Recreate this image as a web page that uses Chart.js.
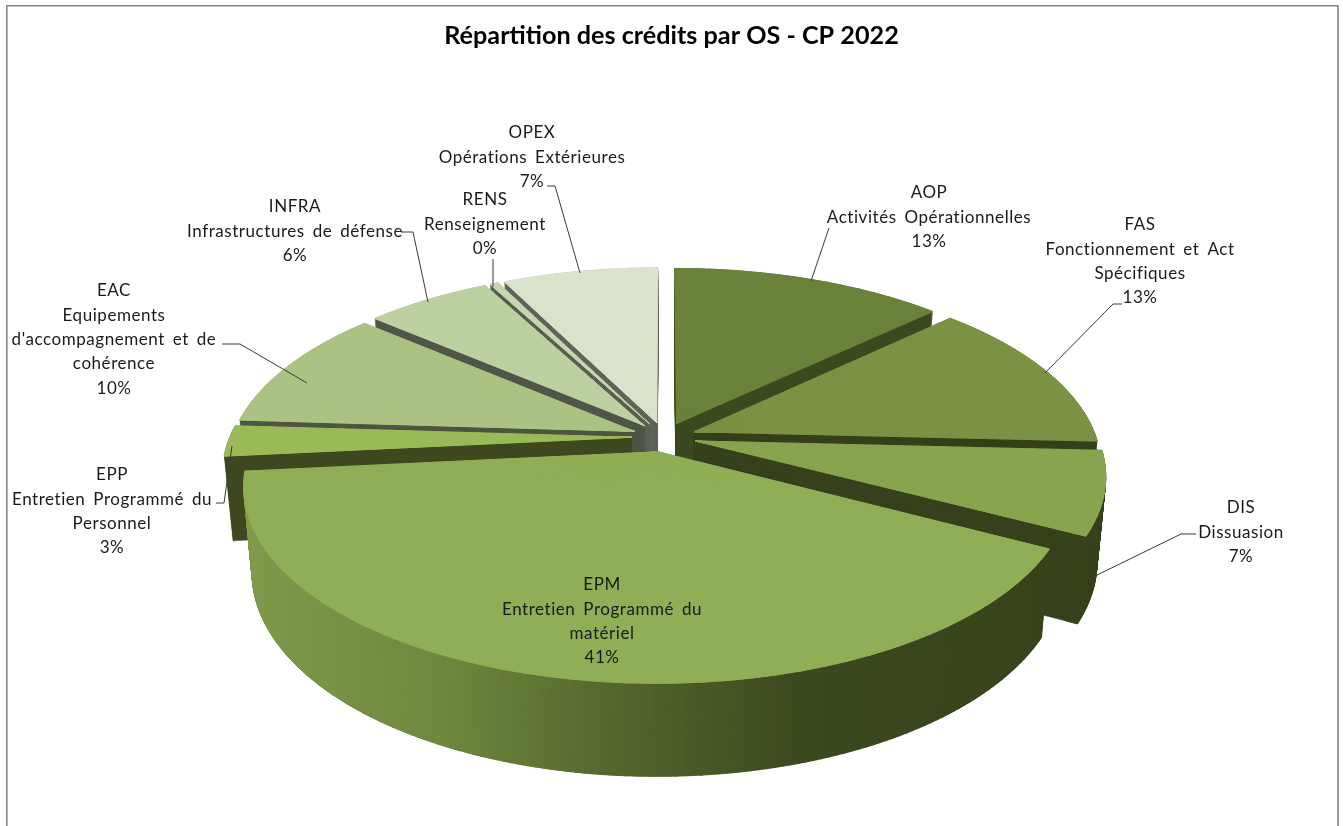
<!DOCTYPE html>
<html lang="fr">
<head>
<meta charset="utf-8">
<title>Répartition des crédits par OS - CP 2022</title>
<style>html,body{margin:0;padding:0;background:#fff;overflow:hidden}canvas{display:block}</style>
<script src="https://cdn.jsdelivr.net/npm/chart.js@4/dist/chart.umd.min.js"></script>
</head>
<body>
<canvas id="c" width="1343" height="826"></canvas>
<script>
const categories = ['AOP','FAS','DIS','EPM','EPP','EAC','INFRA','RENS','OPEX'];
const descriptions = [
  ['Activités Opérationnelles'],
  ['Fonctionnement et Act','Spécifiques'],
  ['Dissuasion'],
  ['Entretien Programmé du','matériel'],
  ['Entretien Programmé du','Personnel'],
  ['Equipements',"d'accompagnement et de",'cohérence'],
  ['Infrastructures de défense'],
  ['Renseignement'],
  ['Opérations Extérieures']
];
const creditsCP2022 = [13, 13, 7, 41, 2.6, 10.4, 6, 0.4, 7.4];
const topColors  = ['#6a8239','#7b9143','#88a44e','#8fae55','#9aba58','#abc282','#bdd0a0','#c6d6ae','#d9e3cb'];
const wallColors = ['#3d4a20','#35401b','#36421d','#3a4720','#3f4920','#4d5640','#50574a','#595f4f','#5f6459'];

// Layout of the 3D view (not data)
const VIEW = {cx:664, cy:437, rx:402, ry:186, persp:0.172, depth:84, narrow:0.02, explode:0.08};
const LABEL_POS = [[929,193],[1140,225],[1241,508],[602,585],[112,475],[114,291],[295,207],[485,200],[532,133]];
const LEADERS = [
  [[811,281],[829,228]],
  [[1045,373],[1113,304],[1122,304]],
  [[1091,578],[1181,534],[1196,534]],
  null,
  [[232,446],[224,503],[216,503]],
  [[222,344],[240,344],[307,383]],
  [[401,232],[413,232],[428,302]],
  [[493,259],[493,287]],
  [[547,186],[555,186],[580,273]]
];
const RIM_STOPS = [[250,[128,155,76]],[450,[110,135,63]],[620,[84,102,44]],[800,[60,74,32]],[1100,[56,67,29]]];

function project(u, v, t) {
  const w = 1 + VIEW.persp * v;
  const x = VIEW.rx * u / w * (1 - VIEW.narrow * t);
  const y = -VIEW.ry * v / w + VIEW.depth * t / Math.sqrt(w);
  return [VIEW.cx + x, VIEW.cy + y];
}
function rimColor(x) {
  const s = RIM_STOPS;
  if (x <= s[0][0]) return 'rgb(' + s[0][1].join(',') + ')';
  for (let i = 1; i < s.length; i++) {
    if (x <= s[i][0]) {
      const f = (x - s[i-1][0]) / (s[i][0] - s[i-1][0]);
      const c = s[i-1][1].map((a, k) => Math.round(a + (s[i][1][k] - a) * f));
      return 'rgb(' + c.join(',') + ')';
    }
  }
  return 'rgb(' + s[s.length-1][1].join(',') + ')';
}
function subArc(arc, a0, a1, inner, color, bw) {
  const s = Object.create(arc);
  s.startAngle = a0; s.endAngle = a1; s.circumference = a1 - a0;
  s.innerRadius = inner; s.outerRadius = arc.outerRadius;
  s.options = {backgroundColor: color, borderColor: color, borderWidth: bw, borderAlign: 'center',
    offset: 0, spacing: 0, circular: true, borderRadius: 0, borderJoinStyle: 'round',
    borderDash: [], borderDashOffset: 0};
  return s;
}
// Draw one thin wedge of a library arc with the perspective transform of its corners.
function drawPiece(ctx, arc, a0, a1, ex, ey, t, inner, color, bw) {
  const R = arc.outerRadius;
  const toP = (c, sn) => project(c + ex, -sn + ey, t);
  const P0 = toP(0, 0);
  const P1 = toP(Math.cos(a0), Math.sin(a0));
  const P2 = toP(Math.cos(a1), Math.sin(a1));
  const ax = R*Math.cos(a0), ay = R*Math.sin(a0), bx = R*Math.cos(a1), by = R*Math.sin(a1);
  const det = ax*by - ay*bx;
  const a = ((P1[0]-P0[0])*by - (P2[0]-P0[0])*ay) / det;
  const c = ((P2[0]-P0[0])*ax - (P1[0]-P0[0])*bx) / det;
  const b = ((P1[1]-P0[1])*by - (P2[1]-P0[1])*ay) / det;
  const d = ((P2[1]-P0[1])*ax - (P1[1]-P0[1])*bx) / det;
  ctx.save();
  ctx.transform(a, b, c, d, P0[0] - a*arc.x - c*arc.y, P0[1] - b*arc.x - d*arc.y);
  subArc(arc, a0, a1, inner, color, bw).draw(ctx);
  ctx.restore();
}
function makePieces(arc, stepDeg) {
  const step = stepDeg * Math.PI / 180, out = [];
  const n = Math.max(1, Math.ceil((arc.endAngle - arc.startAngle) / step));
  const da = (arc.endAngle - arc.startAngle) / n;
  for (let k = 0; k < n; k++) {
    const a0 = arc.startAngle + k * da;
    out.push([a0, Math.min(a0 + da + 0.003, arc.endAngle)]);
  }
  return out;
}
const pie3d = {
  id: 'pie3d',
  beforeDraw(chart) {
    const ctx = chart.ctx;
    ctx.save();
    ctx.fillStyle = '#fff'; ctx.fillRect(0, 0, chart.width, chart.height);
    ctx.strokeStyle = '#868686'; ctx.lineWidth = 1.6;
    ctx.beginPath(); ctx.moveTo(6.8, 830); ctx.lineTo(6.8, 5.8); ctx.lineTo(1338, 5.8); ctx.lineTo(1338, 830); ctx.stroke();
    ctx.restore();
  },
  beforeDatasetsDraw(chart) {
    const ctx = chart.ctx, meta = chart.getDatasetMeta(0);
    const LAYERS = 100;
    const items = meta.data.map((arc, i) => {
      const mid = (arc.startAngle + arc.endAngle) / 2;
      return {arc, i, mid, depthKey: -Math.sin(mid)};
    }).sort((p, q) => q.depthKey - p.depthKey);
    for (const it of items) {
      const {arc, i, mid} = it;
      const ex = VIEW.explode * Math.cos(mid), ey = -VIEW.explode * Math.sin(mid);
      const coarse = makePieces(arc, 3);
      const rim = Math.sin(mid) > 0.15
        ? makePieces(arc, 1).filter(p => Math.sin((p[0] + p[1]) / 2) > 0.03) : [];
      for (let l = LAYERS; l >= 0; l--) {
        const t = l / LAYERS;
        for (const [a0, a1] of coarse) drawPiece(ctx, arc, a0, a1, ex, ey, t, 0, wallColors[i], 0.5);
      }
      for (let l = LAYERS; l >= 0; l--) {
        const t = l / LAYERS;
        for (const [a0, a1] of rim) {
          const am = (a0 + a1) / 2;
          const x = project(Math.cos(am) + ex, -Math.sin(am) + ey, t)[0];
          drawPiece(ctx, arc, a0, a1, ex, ey, t, arc.outerRadius * 0.97, rimColor(x), 0.5);
        }
      }
      for (let pass = 0; pass < 3; pass++) {
        for (const [a0, a1] of coarse) drawPiece(ctx, arc, a0, a1, ex, ey, 0, 0, topColors[i], 0.6);
      }
    }
    return false;
  },
  afterDraw(chart) {
    const ctx = chart.ctx;
    const total = creditsCP2022.reduce((a, b) => a + b, 0);
    ctx.save();
    ctx.strokeStyle = '#3a3a3a'; ctx.lineWidth = 1;
    LEADERS.forEach(pts => {
      if (!pts) return;
      ctx.beginPath();
      pts.forEach((p, k) => k ? ctx.lineTo(p[0], p[1]) : ctx.moveTo(p[0], p[1]));
      ctx.stroke();
    });
    ctx.fillStyle = '#1a1a1a';
    ctx.font = '17px Lato';
    ctx.textAlign = 'center'; ctx.textBaseline = 'middle';
    if ('wordSpacing' in ctx) ctx.wordSpacing = '3px';
    if ('letterSpacing' in ctx) ctx.letterSpacing = '0.55px';
    categories.forEach((cat, i) => {
      const lines = [cat, ...descriptions[i], Math.round(creditsCP2022[i] / total * 100) + '%'];
      lines.forEach((txt, k) => ctx.fillText(txt, LABEL_POS[i][0], LABEL_POS[i][1] + k * 24.3));
    });
    ctx.restore();
  }
};
new Chart(document.getElementById('c'), {
  type: 'pie',
  data: {labels: categories, datasets: [{data: creditsCP2022, backgroundColor: topColors, borderWidth: 0}]},
  options: {
    responsive: false, animation: false, devicePixelRatio: 1,
    layout: {padding: 40},
    plugins: {
      legend: {display: false}, tooltip: {enabled: false},
      title: {display: true, text: 'Répartition des crédits par OS - CP 2022', color: '#000',
        font: {family: 'Lato', size: 25.2, weight: 'bold'}, padding: {top: -19, bottom: 0}}
    }
  },
  plugins: [pie3d]
});
</script>
</body>
</html>
